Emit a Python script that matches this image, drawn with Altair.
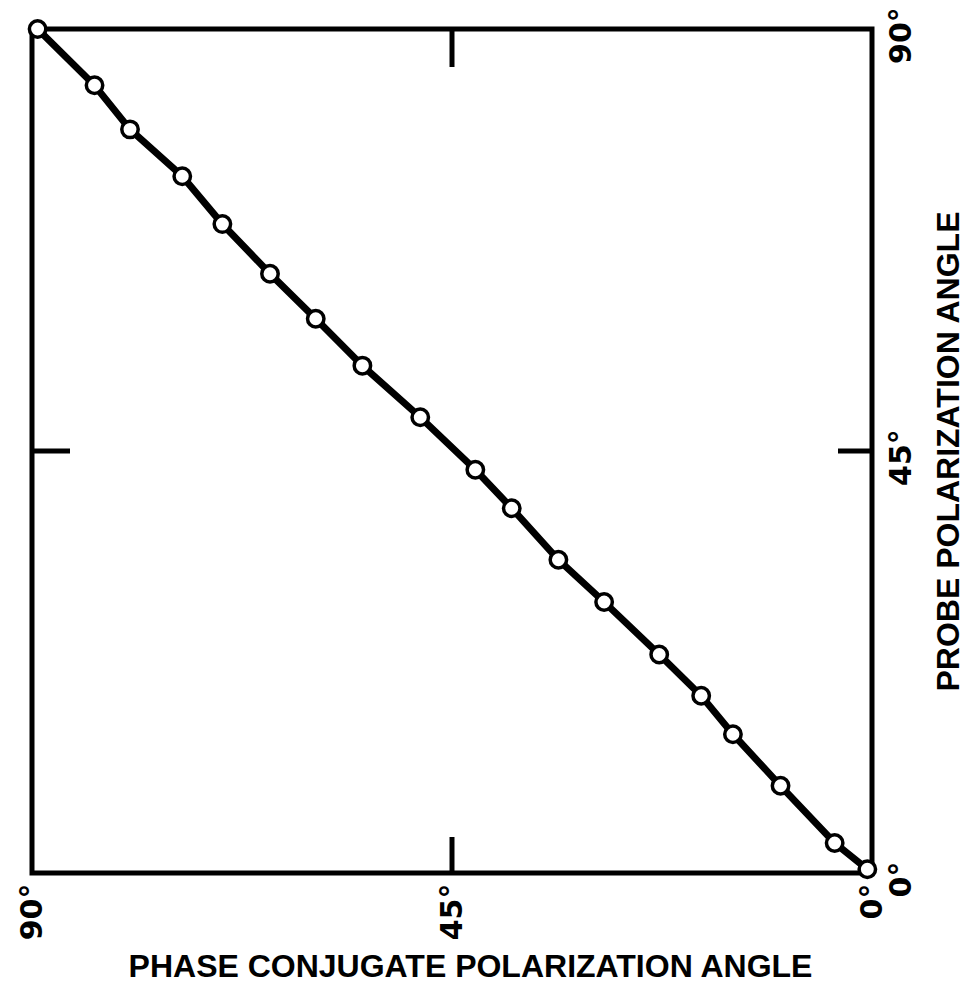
import altair as alt
import pandas as pd

phase_conjugate_angle = [89.4, 83.3, 79.5, 73.9, 69.6, 64.5, 59.6, 54.6, 48.4, 42.5,
                         38.6, 33.6, 28.7, 22.8, 18.3, 14.9, 9.8, 4.0, 0.5]
probe_angle = [90.0, 84.0, 79.3, 74.3, 69.2, 63.9, 59.1, 54.1, 48.6, 43.0,
               38.9, 33.4, 28.9, 23.3, 18.9, 14.8, 9.3, 3.2, 0.4]
tick_values = [0, 45, 90]
inner_tick = [45]

W, H = 840, 844
TFONT = "Liberation Sans"
LFONT = "DejaVu Sans"

df = pd.DataFrame({"phase": phase_conjugate_angle, "probe": probe_angle,
                   "order": list(range(len(probe_angle)))})
ticks = pd.DataFrame({"v": inner_tick})

xscale = alt.Scale(domain=[0, 90], reverse=True, nice=False, zero=False)
yscale = alt.Scale(domain=[0, 90], nice=False, zero=False)

xaxis = alt.Axis(values=tick_values, labelExpr="datum.value + '°'", labelAngle=270,
                 labelFontSize=30, labelFont=LFONT, labelFontWeight="bold", labelColor="black",
                 labelPadding=10, ticks=False, domain=False, grid=False,
                 title="PHASE CONJUGATE POLARIZATION ANGLE", titleFont=TFONT,
                 titleFontSize=32, titleFontWeight="bold", titleColor="black", titlePadding=12,
                 titleX=W / 2 + 18)
yaxis = alt.Axis(orient="right", values=tick_values, labelExpr="datum.value + '°'", labelAngle=270,
                 labelFontSize=30, labelFont=LFONT, labelFontWeight="bold", labelColor="black",
                 labelPadding=14, labelOffset=6, ticks=False, domain=False, grid=False,
                 title="PROBE POLARIZATION ANGLE", titleAngle=270, titleBaseline="top",
                 titleFont=TFONT, titleFontSize=32, titleFontWeight="bold", titleColor="black",
                 titlePadding=17)

base = alt.Chart(df)

line = base.mark_line(color="black", strokeWidth=7).encode(
    x=alt.X("phase:Q", scale=xscale, axis=xaxis),
    y=alt.Y("probe:Q", scale=yscale, axis=yaxis),
    order="order:Q",
)
points = base.mark_point(shape="circle", filled=True, fill="white", stroke="black",
                         strokeWidth=3.5, size=270, opacity=1).encode(
    x=alt.X("phase:Q", scale=xscale),
    y=alt.Y("probe:Q", scale=yscale),
)

tk = alt.Chart(ticks)
top_tick = tk.mark_rule(color="black", strokeWidth=5).encode(
    x=alt.X("v:Q", scale=xscale), y=alt.value(0), y2=alt.value(38))
bottom_tick = tk.mark_rule(color="black", strokeWidth=5).encode(
    x=alt.X("v:Q", scale=xscale), y=alt.value(H), y2=alt.value(H - 36))
left_tick = tk.mark_rule(color="black", strokeWidth=5).encode(
    y=alt.Y("v:Q", scale=yscale), x=alt.value(0), x2=alt.value(38))
right_tick = tk.mark_rule(color="black", strokeWidth=5).encode(
    y=alt.Y("v:Q", scale=yscale), x=alt.value(W), x2=alt.value(W - 34))

chart = alt.layer(top_tick, bottom_tick, left_tick, right_tick, line, points).properties(
    width=W, height=H,
    autosize=alt.AutoSizeParams(type="none"),
    padding={"left": 24, "top": 21, "right": 92, "bottom": 114},
    background="white",
).configure_view(stroke="black", strokeWidth=5)

chart.save("out.html", embed_options={"renderer": "svg", "actions": False})
